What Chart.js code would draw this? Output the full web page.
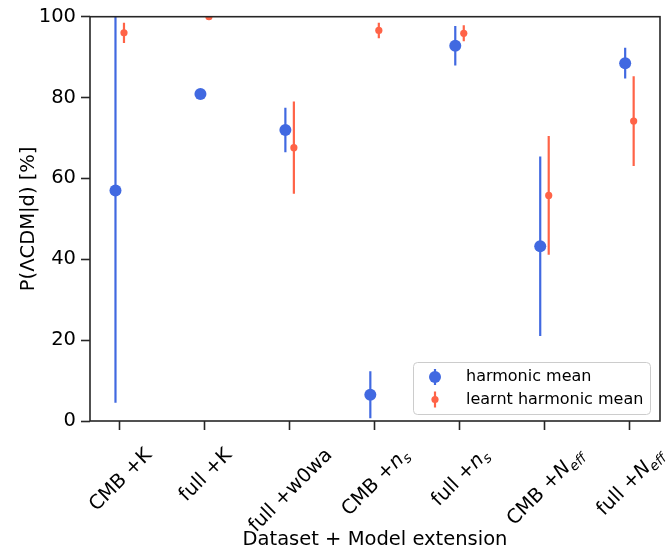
<!DOCTYPE html>
<html>
<head>
<meta charset="utf-8">
<script src="https://cdn.jsdelivr.net/npm/chart.js@4.4.1/dist/chart.umd.min.js"></script>
<style>
  html, body { margin: 0; padding: 0; background: #fff; }
  #wrap { width: 666px; height: 552px; }
</style>
</head>
<body>
<div id="wrap"><canvas id="chart" width="666" height="552"></canvas></div>
<script>
// categories ($...$ = italic math, _ = subscript)
const categories = ['CMB +K', 'full +K', 'full +w0wa', 'CMB +$n_s$', 'full +$n_s$', 'CMB +$N_{eff}$', 'full +$N_{eff}$'];
const harmonicMean = [57, 80.9, 72, 6.5, 92.8, 43.2, 88.5];
const harmonicErr  = [52.5, 1.2, 5.5, 5.8, 4.9, 22.2, 3.8];
const learntMean   = [96, 100, 67.6, 96.6, 95.9, 55.8, 74.2];
const learntErr    = [2.5, 0.5, 11.4, 1.9, 2, 14.7, 11.1];
const yTicks = [0, 20, 40, 60, 80, 100];

const FONT = '"DejaVu Sans", sans-serif';
const INK = '#262626';
const SIZE = 19.5;

// split "CMB +$N_{eff}$" into plain / italic / subscript pieces
function parseLabel(s) {
  const segs = [];
  s.split('$').forEach((p, k) => {
    if (k % 2 === 0) { if (p) segs.push({ t: p, it: false, sub: false }); return; }
    const m = p.match(/^([^_]*)(?:_\{?([^}]*)\}?)?$/);
    if (m[1]) segs.push({ t: m[1], it: true, sub: false });
    if (m[2]) segs.push({ t: m[2], it: true, sub: true });
  });
  return segs;
}

function segFont(s, size) {
  return (s.it ? 'italic ' : '') + (s.sub ? size * 0.7 : size) + 'px ' + FONT;
}

// vertical error bars, drawn under the markers
const errorBarPlugin = {
  id: 'errorBars',
  beforeDatasetsDraw(chart) {
    const { ctx, chartArea: a, scales: { x, y } } = chart;
    ctx.save();
    ctx.beginPath();
    ctx.rect(a.left, a.top, a.right - a.left, a.bottom - a.top);
    ctx.clip();
    chart.data.datasets.forEach(ds => {
      ctx.strokeStyle = ds.backgroundColor;
      ctx.lineWidth = ds.errWidth;
      ds.data.forEach((p, i) => {
        const e = ds.errors[i];
        const px = x.getPixelForValue(p.x);
        ctx.beginPath();
        ctx.moveTo(px, y.getPixelForValue(p.y - e));
        ctx.lineTo(px, y.getPixelForValue(p.y + e));
        ctx.stroke();
      });
    });
    ctx.restore();
  }
};

// box around the axes
const framePlugin = {
  id: 'frame',
  afterDatasetsDraw(chart) {
    const { ctx, chartArea: a } = chart;
    ctx.save();
    ctx.strokeStyle = INK;
    ctx.lineWidth = 1.6;
    ctx.strokeRect(a.left, a.top, a.right - a.left, a.bottom - a.top);
    ctx.restore();
  }
};

// rotated x tick labels with italic / subscript parts
const xLabelPlugin = {
  id: 'richXLabels',
  afterDraw(chart) {
    const { ctx, scales: { x } } = chart;
    const size = SIZE;
    const top = chart.chartArea.bottom + 22;
    ctx.save();
    ctx.fillStyle = '#000';
    ctx.textBaseline = 'alphabetic';
    ctx.textAlign = 'left';
    categories.forEach((label, i) => {
      const segs = parseLabel(label);
      let w = 0;
      segs.forEach(s => { ctx.font = segFont(s, size); s.w = ctx.measureText(s.t).width; w += s.w; });
      const h = size * 1.164;
      const half = (w + h) * Math.SQRT1_2 / 2;
      ctx.save();
      ctx.translate(x.getPixelForValue(i), top + half);
      ctx.rotate(-Math.PI / 4);
      let cx = -w / 2;
      const base = size * 0.346;
      segs.forEach(s => {
        ctx.font = segFont(s, size);
        ctx.fillText(s.t, cx, base + (s.sub ? size * 0.22 : 0));
        cx += s.w;
      });
      ctx.restore();
    });
    ctx.restore();
  }
};

// legend box in the lower right corner of the plot
const legendPlugin = {
  id: 'boxLegend',
  afterDraw(chart) {
    const { ctx, chartArea: a } = chart;
    const w = 237, h = 52;
    const left = a.right - 10 - w, top = a.bottom - 7 - h;
    ctx.save();
    ctx.beginPath();
    ctx.roundRect(left + 0.5, top + 0.5, w, h, 4);
    ctx.fillStyle = 'rgba(255,255,255,0.8)';
    ctx.fill();
    ctx.strokeStyle = '#cccccc';
    ctx.lineWidth = 1;
    ctx.stroke();
    ctx.font = '16px ' + FONT;
    ctx.textBaseline = 'middle';
    chart.data.datasets.forEach((ds, k) => {
      const cy = top + 15 + k * 22.5;
      const mx = left + 22;
      ctx.strokeStyle = ds.backgroundColor;
      ctx.lineWidth = ds.errWidth;
      ctx.beginPath(); ctx.moveTo(mx, cy - 8); ctx.lineTo(mx, cy + 8); ctx.stroke();
      ctx.fillStyle = ds.backgroundColor;
      ctx.beginPath(); ctx.arc(mx, cy, ds.pointRadius, 0, Math.PI * 2); ctx.fill();
      ctx.fillStyle = '#000';
      ctx.fillText(ds.label, left + 53, cy);
    });
    ctx.restore();
  }
};

const grid = { drawOnChartArea: false, tickLength: 9, tickWidth: 1.6, tickColor: INK, color: INK };

new Chart(document.getElementById('chart'), {
  type: 'scatter',
  data: {
    datasets: [
      {
        label: 'harmonic mean',
        data: harmonicMean.map((v, i) => ({ x: i - 0.05, y: v })),
        errors: harmonicErr,
        backgroundColor: '#4169E1',
        pointRadius: 6,
        pointBorderWidth: 0,
        errWidth: 2.2,
      },
      {
        label: 'learnt harmonic mean',
        data: learntMean.map((v, i) => ({ x: i + 0.05, y: v })),
        errors: learntErr,
        backgroundColor: '#FF6347',
        pointRadius: 3.6,
        pointBorderWidth: 0,
        errWidth: 2.2,
      },
    ],
  },
  options: {
    responsive: false,
    animation: false,
    layout: { padding: { top: 13, right: 3, bottom: 0, left: 0 } },
    plugins: { legend: { display: false }, tooltip: { enabled: false } },
    scales: {
      x: {
        type: 'linear',
        min: -0.35,
        max: 6.36,
        afterBuildTicks: s => { s.ticks = categories.map((_, i) => ({ value: i })); },
        afterFit: s => { s.height = 131; },
        ticks: { display: false },
        grid: grid,
        border: { display: false },
        title: {
          display: true,
          text: 'Dataset + Model extension',
          color: '#000',
          font: { family: FONT, size: SIZE },
          padding: { top: 0, bottom: 0 },
        },
      },
      y: {
        min: 0,
        max: 100,
        afterBuildTicks: s => { s.ticks = yTicks.map(v => ({ value: v })); },
        afterFit: s => { s.width = 90; },
        ticks: { color: '#000', font: { family: FONT, size: SIZE }, padding: 5 },
        grid: grid,
        border: { display: false },
        title: {
          display: true,
          text: 'P(ΛCDM|d) [%]',
          color: '#000',
          font: { family: FONT, size: SIZE },
          padding: { top: 17, bottom: 0 },
        },
      },
    },
  },
  plugins: [errorBarPlugin, framePlugin, xLabelPlugin, legendPlugin],
});
</script>
</body>
</html>
